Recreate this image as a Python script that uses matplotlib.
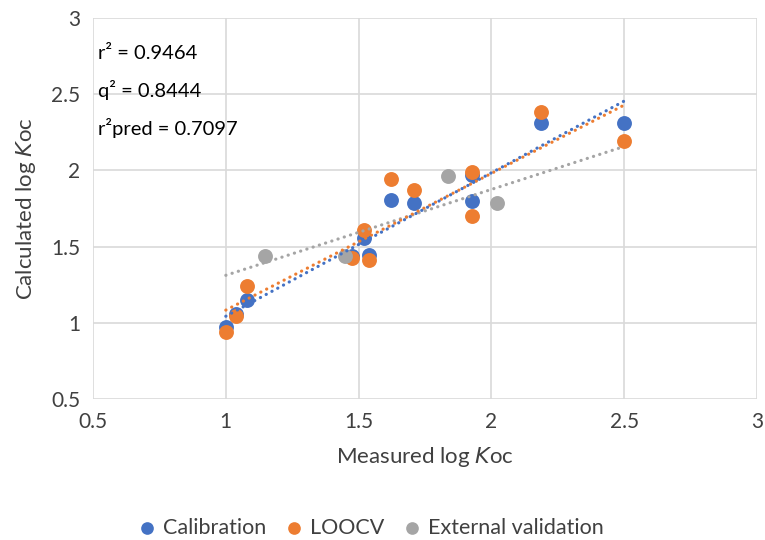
import numpy as np
import matplotlib.pyplot as plt

# data
calib_x = [1.00, 1.04, 1.078, 1.476, 1.519, 1.538, 1.62, 1.708, 1.927, 1.927, 2.185, 2.50]
calib_y = [0.97, 1.06, 1.147, 1.44, 1.557, 1.443, 1.805, 1.787, 1.80, 1.97, 2.31, 2.31]

loocv_x = [1.00, 1.04, 1.078, 1.476, 1.519, 1.538, 1.62, 1.708, 1.927, 1.927, 2.185, 2.50]
loocv_y = [0.94, 1.044, 1.24, 1.428, 1.607, 1.41, 1.943, 1.87, 1.70, 1.99, 2.386, 2.19]

ext_x = [1.147, 1.449, 1.836, 2.02]
ext_y = [1.439, 1.439, 1.965, 1.787]

stats_text = ['r\u00b2 = 0.9464', 'q\u00b2 = 0.8444', 'r\u00b2pred = 0.7097']

blue = '#4472c4'
orange = '#ed7d31'
grey = '#a5a5a5'

plt.rcParams['font.family'] = ['Lato', 'DejaVu Sans']

fig = plt.figure(figsize=(7.65, 5.4), dpi=100)
ax = fig.add_axes([0.1216, 0.261, 0.868, 0.7056])

series = [
    (calib_x, calib_y, blue, 'Calibration'),
    (loocv_x, loocv_y, orange, 'LOOCV'),
    (ext_x, ext_y, grey, 'External validation'),
]

# points
for x, y, c, lab in series:
    ax.scatter(x, y, s=115, color=c, label=lab, zorder=3, linewidths=0)

# dotted linear trendlines
xt = np.array([1.0, 2.5])
for x, y, c, lab in [series[2], series[1], series[0]]:
    a, b = np.polyfit(x, y, 1)
    ax.plot(xt, a * xt + b, color=c, lw=2.3, linestyle=(0, (0.05, 2.0)),
            dash_capstyle='round', zorder=4)

ax.set_xlim(0.5, 3)
ax.set_ylim(0.5, 3)
ax.set_xticks(np.arange(0.5, 3.01, 0.5))
ax.set_yticks(np.arange(0.5, 3.01, 0.5))
ax.set_xticklabels(['0.5', '1', '1.5', '2', '2.5', '3'])
ax.set_yticklabels(['0.5', '1', '1.5', '2', '2.5', '3'])
ax.grid(True, color='#d9d9d9', lw=1.2, zorder=0)
ax.set_axisbelow(True)
for s in ax.spines.values():
    s.set_visible(False)
ax.tick_params(length=0, labelsize=15, colors='#404040', pad=9)

ax.set_xlabel('Measured log $\\it{K}$oc', fontsize=16, color='#404040', labelpad=10)
ax.set_ylabel('Calculated log $\\it{K}$oc', fontsize=16, color='#404040', labelpad=10)

for i, t in enumerate(stats_text):
    ax.text(0.52, 2.77 - i * 0.245, t, fontsize=14.5, color='black', va='center')

fig.legend(loc='center', bbox_to_anchor=(0.485, 0.022), ncol=3, frameon=False,
           fontsize=15.5, handlelength=0.8, handletextpad=0.35, columnspacing=0.9,
           markerscale=0.85, labelcolor='#404040')

plt.savefig('out.png', dpi=100)
plt.close()
